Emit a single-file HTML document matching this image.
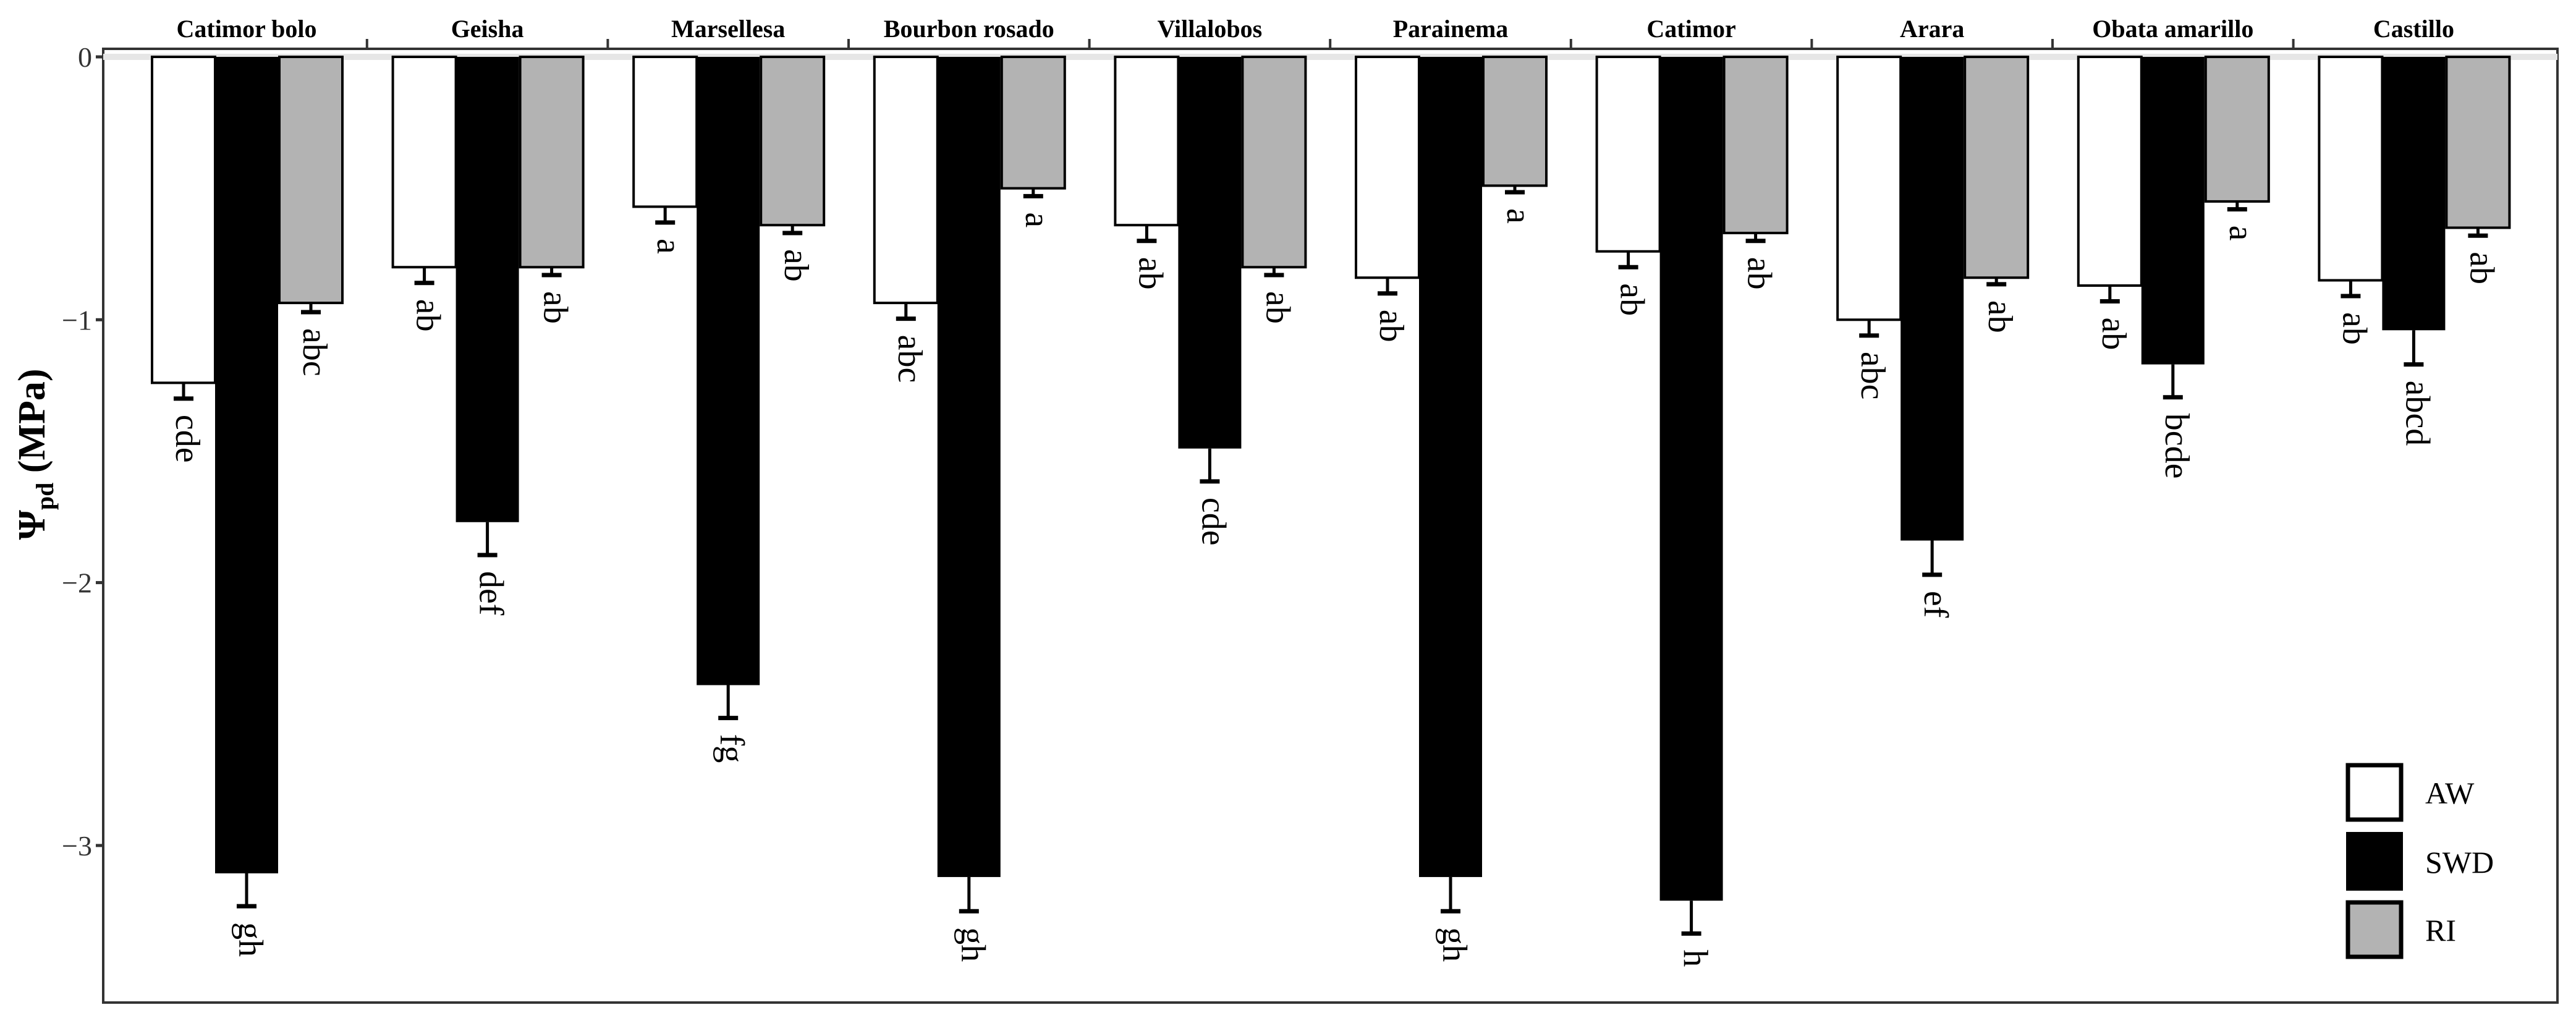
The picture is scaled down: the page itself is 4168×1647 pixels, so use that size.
<!DOCTYPE html>
<html><head><meta charset="utf-8"><style>
body{margin:0;background:#fff}
svg{display:block}
text{font-family:"Liberation Serif",serif}
</style></head><body>
<svg id="chart" width="4168" height="1647" viewBox="0 0 4168 1647" xmlns="http://www.w3.org/2000/svg">
<g id="axes"></g>
<g id="bars"></g>
<g id="legend">
  <rect x="3799" y="1238" width="86" height="88" fill="#fff" stroke="#000" stroke-width="7"/>
  <rect x="3796" y="1346" width="92" height="95" fill="#000"/>
  <rect x="3799" y="1460" width="86" height="88" fill="#b3b3b3" stroke="#000" stroke-width="7"/>
  <text x="3924" y="1300" font-size="50">AW</text>
  <text x="3924" y="1412" font-size="50">SWD</text>
  <text x="3924" y="1522" font-size="50">RI</text>
</g>
<text transform="translate(72,735) rotate(-90)" text-anchor="middle" font-size="62" font-weight="bold">Ψ<tspan font-size="40" dy="14">pd</tspan><tspan dy="-14"> (MPa)</tspan></text>
</svg>
<script>
const categories=["Catimor bolo","Geisha","Marsellesa","Bourbon rosado","Villalobos","Parainema","Catimor","Arara","Obata amarillo","Castillo"];
const awValues=[-1.24,-0.80,-0.57,-0.936,-0.64,-0.84,-0.74,-1.00,-0.87,-0.85];
const swdValues=[-3.106,-1.77,-2.39,-3.12,-1.49,-3.12,-3.21,-1.84,-1.17,-1.04];
const riValues=[-0.936,-0.80,-0.64,-0.50,-0.80,-0.49,-0.67,-0.84,-0.55,-0.65];
const awErr=[0.06,0.06,0.06,0.06,0.06,0.06,0.06,0.06,0.06,0.06];
const swdErr=[0.125,0.125,0.125,0.13,0.125,0.13,0.125,0.13,0.125,0.13];
const riErr=[0.035,0.03,0.03,0.03,0.03,0.025,0.03,0.025,0.03,0.03];
const awLetters=["cde","ab","a","abc","ab","ab","ab","abc","ab","ab"];
const swdLetters=["gh","def","fg","gh","cde","gh","h","ef","bcde","abcd"];
const riLetters=["abc","ab","ab","a","ab","a","ab","ab","a","ab"];
const yTicks=[0,-1,-2,-3];
const yTickLabels=["0","\u22121","\u22122","\u22123"];

const NS="http://www.w3.org/2000/svg";
const y0=92, unit=425.3;
const yScale=v=>y0-v*unit;
const xCenter=i=>399+389.6*i;
const plotLeft=167,plotRight=4138,plotTop=79,plotBottom=1622;
function mk(tag,attrs,parent,txt){const e=document.createElementNS(NS,tag);for(const k in attrs)e.setAttribute(k,attrs[k]);if(txt!==undefined)e.textContent=txt;parent.appendChild(e);return e;}
const axesG=document.getElementById('axes'), barsG=document.getElementById('bars');

let frame=mk('rect',{x:plotLeft,y:plotTop,width:plotRight-plotLeft,height:plotBottom-plotTop,fill:'none',stroke:'#333','stroke-width':4},axesG);


let zl=mk('line',{x1:plotLeft,x2:plotRight,y1:y0,y2:y0,stroke:'#e6e6e6','stroke-width':10},axesG);



yTicks.forEach((t,i)=>{
  const y=yScale(t);
  let tk=mk('line',{x1:plotLeft-12,x2:plotLeft,y1:y,y2:y,stroke:'#333','stroke-width':5},axesG);
  
  
  let tl=mk('text',{x:plotLeft-18,y:y+16,'text-anchor':'end','font-size':46,fill:'#333'},axesG,yTickLabels[i]);
  
  
});

categories.forEach((c,i)=>{
  const cx=xCenter(i);
  let st=mk('text',{x:cx,y:60,'text-anchor':'middle','font-size':40,'font-weight':'bold'},axesG,c);
  
  
  if(i>0){
    let d=mk('line',{x1:cx-194.8,x2:cx-194.8,y1:63,y2:plotTop,stroke:'#333','stroke-width':4},axesG);
    
    
  }
  const series=[[awValues,awErr,awLetters,'#fff',-102,'aw'],[swdValues,swdErr,swdLetters,'#000',0,'swd'],[riValues,riErr,riLetters,'#b3b3b3',104,'ri']];
  series.forEach(s=>{
    const v=s[0][i], e=s[1][i], bx=cx+s[4];
    const w=102, yb=yScale(v);
    let r=mk('rect',{x:bx-w/2,y:y0,width:w,height:yb-y0,fill:s[3],stroke:'#000','stroke-width':s[5]==='swd'?0:4},barsG);
    
    
    const ye=yScale(v-e);
    let el=mk('line',{x1:bx,x2:bx,y1:yb,y2:ye,stroke:'#000','stroke-width':5},barsG);
    
    
    let cap=mk('line',{x1:bx-16,x2:bx+16,y1:ye,y2:ye,stroke:'#000','stroke-width':7},barsG);
    
    
    let lt=mk('text',{transform:`translate(${bx-12},${ye+26}) rotate(90)`,'font-size':56},barsG,s[2][i]);
    
    
  });
});
</script>
</body></html>
